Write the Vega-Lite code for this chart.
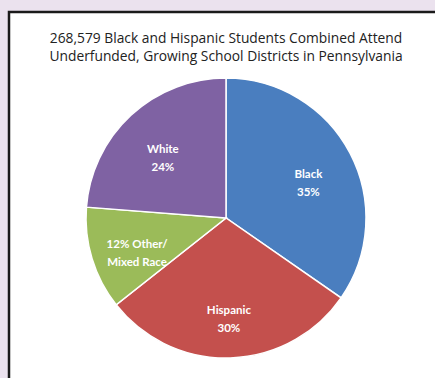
{
  "$schema": "https://vega.github.io/schema/vega-lite/v6.json",
  "background": "#ebe2ee",
  "padding": {"left": 9, "top": 12, "right": 0, "bottom": 0},
  "width": 434,
  "height": 412,
  "view": {"fill": "white", "stroke": "#1a1a1a", "strokeWidth": 2.5},
  "title": {
    "text": ["268,579 Black and Hispanic Students Combined Attend", "Underfunded, Growing School Districts in Pennsylvania"],
    "anchor": "middle",
    "frame": "group",
    "offset": -52,
    "font": "Open Sans",
    "fontSize": 13.8,
    "fontWeight": "normal",
    "color": "#222222",
    "lineHeight": 18
  },
  "data": {
    "values": [
      {"group": "Black", "pct": 35, "label": "Black\n35%"},
      {"group": "Hispanic", "pct": 30, "label": "Hispanic\n30%"},
      {"group": "Other/Mixed Race", "pct": 12, "label": "12% Other/\nMixed Race"},
      {"group": "White", "pct": 24, "label": "White\n24%"}
    ]
  },
  "encoding": {
    "theta": {"field": "pct", "type": "quantitative", "stack": true},
    "order": {"field": "group", "sort": "ascending"}
  },
  "layer": [
    {
      "mark": {"type": "arc", "outerRadius": 140, "stroke": "white", "strokeWidth": 1.5},
      "encoding": {
        "color": {
          "field": "group",
          "type": "nominal",
          "legend": null,
          "scale": {
            "domain": ["Black", "Hispanic", "Other/Mixed Race", "White"],
            "range": ["#4a7ebf", "#c4504d", "#9bbb59", "#7f62a3"]
          }
        }
      }
    },
    {
      "mark": {
        "type": "text",
        "radius": 93,
        "font": "Lato",
        "fontWeight": "bold",
        "fontSize": 11.5,
        "lineHeight": 18,
        "lineBreak": "\n",
        "fill": "white",
        "align": "center",
        "baseline": "middle"
      },
      "encoding": {
        "text": {"field": "label"}
      }
    }
  ]
}
